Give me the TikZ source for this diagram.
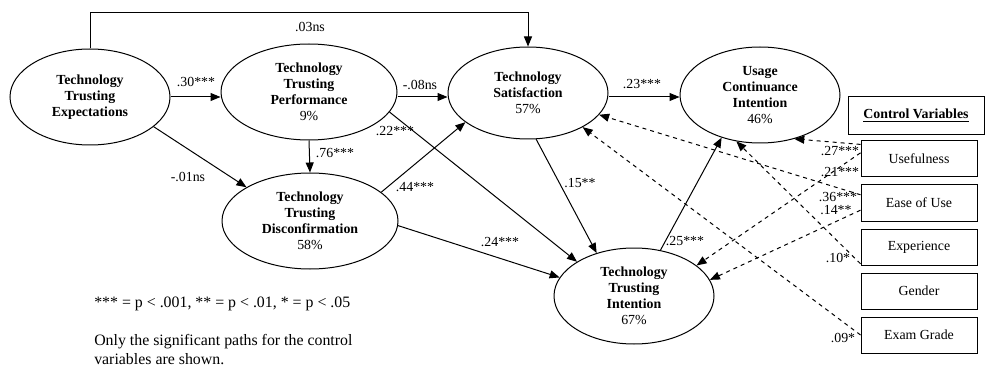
\documentclass[tikz,border=0pt]{standalone}
\usepackage{fontspec}
\setmainfont{Liberation Serif}
\usetikzlibrary{shapes.geometric, arrows.meta, positioning}
\tikzstyle{construct} = [ellipse, draw=black, line width=0.75pt, inner sep=0pt, align=center, minimum width=120pt, minimum height=72pt, font=\fontsize{10.4}{12}\selectfont\bfseries]
\tikzstyle{ctrlbox} = [rectangle, draw=black, line width=0.75pt, minimum width=87pt, minimum height=27pt, font=\fontsize{10.4}{12}\selectfont]
\tikzstyle{link} = [line width=0.75pt, -{Triangle[length=7.5pt, width=6pt]}]
\tikzstyle{ctrllink} = [link, dashed]
\tikzstyle{coef} = [font=\fontsize{10.4}{12}\selectfont, inner sep=1pt]

\begin{document}
\begin{tikzpicture}[x=0.75pt, y=-0.75pt]
        \useasboundingbox (0,0) rectangle (985,367);

        \node (expect) at (90,97) [construct] {Technology\\Trusting\\Expectations};
        \node (perf) at (309,92) [construct, minimum width=132pt] {Technology\\Trusting\\Performance\\{\mdseries 9\%}};
        \node (disconf) at (310,221) [construct, minimum width=132pt] {Technology\\Trusting\\Disconfirmation\\{\mdseries 58\%}};
        \node (satis) at (528,93) [construct, minimum height=69pt] {Technology\\Satisfaction\\{\mdseries 57\%}};
        \node (usage) at (760,95) [construct] {Usage\\Continuance\\Intention\\{\mdseries 46\%}};
        \node (intent) at (634,296) [construct] {Technology\\Trusting\\Intention\\{\mdseries 67\%}};

        \node (cvars) at (916,115.5) [draw=black, line width=0.75pt, minimum width=102pt, minimum height=28pt, font=\fontsize{10.4}{12}\selectfont] {\textbf{\underline{Control Variables}}};
        \node (useful) at (919,159) [ctrlbox] {Usefulness};
        \node (ease) [ctrlbox, below=5.25pt of useful] {Ease of Use};
        \node (exper) [ctrlbox, below=5.25pt of ease] {Experience};
        \node (gender) [ctrlbox, below=5.25pt of exper] {Gender};
        \node (grade) [ctrlbox, below=5.25pt of gender] {Exam Grade};

        \coordinate (ttop) at (90,13);
        \draw[link] (expect.north) -- (ttop) -| (satis.north);
        \draw[link] (expect.east) -- (expect.east -| perf.west);
        \draw[link] (perf.east |- expect.east) -- (satis.west |- expect.east);
        \draw[link] (satis.east |- expect.east) -- (usage.west |- expect.east);
        \draw[link] (expect.-25) -- (disconf.152);
        \draw[link] (perf.south) -- (disconf.north);
        \draw[link] (disconf.22) -- (satis.205);
        \draw[link] (perf.-14) -- (intent.149);
        \draw[link] (satis.-80) -- (intent.131);
        \draw[link] (disconf.-3) -- (intent.166);
        \draw[link] (intent.60) -- (usage.228);

        \draw[ctrllink] (useful.166) -- (usage.-52);
        \draw[ctrllink] (useful.174) -- (intent.26);
        \draw[ctrllink] (ease.172) -- (satis.-17);
        \draw[ctrllink] (ease.187) -- (intent.12);
        \draw[ctrllink] (exper.196) -- (usage.243);
        \draw[ctrllink] (grade.west) -- (satis.-32);

        \node (c1) at (310,27) [coef] {.03ns};
        \node (c2) at (196,82) [coef] {.30***};
        \node (c3) at (420,85) [coef] {-.08ns};
        \node (c4) at (642,84) [coef] {.23***};
        \node (c5) at (188,177) [coef] {-.01ns};
        \node (c6) at (335,153) [coef] {.76***};
        \node (c7) at (415,187) [coef] {.44***};
        \node (c8) at (395,131) [coef] {.22***};
        \node (c9) at (580,183) [coef] {.15**};
        \node (c10) at (500,242) [coef] {.24***};
        \node (c11) at (685,241) [coef] {.25***};
        \node (c12) at (840,151) [coef] {.27***};
        \node (c13) at (840,172) [coef] {.21***};
        \node (c14) at (838,197) [coef] {.36***};
        \node (c15) at (836,210) [coef] {.14**};
        \node (c16) at (838,258) [coef] {.10*};
        \node (c17) at (843,338) [coef] {.09*};

        \node (sig) at (94,304) [anchor=west, inner sep=0pt, font=\fontsize{11.9}{14.3}\selectfont] {*** = p < .001, ** = p < .01, * = p < .05};
        \node (note) at (94,349.5) [anchor=west, inner sep=0pt, align=left, font=\fontsize{11.9}{14.3}\selectfont] {Only the significant paths for the control\\variables are shown.};
\end{tikzpicture}
\end{document}
